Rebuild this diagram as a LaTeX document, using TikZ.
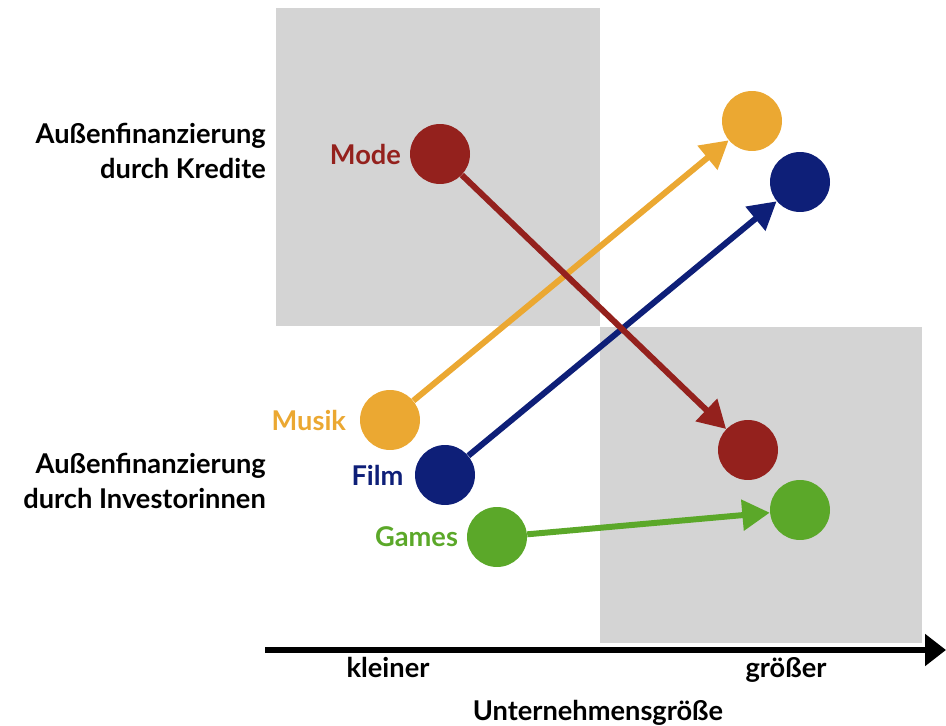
\documentclass[tikz,border=0pt]{standalone}
\usepackage{fontspec}
\setmainfont{Lato}
\usetikzlibrary{arrows.meta,positioning}
\definecolor{modered}{RGB}{148,33,29}
\definecolor{musikorange}{RGB}{235,168,50}
\definecolor{filmblue}{RGB}{14,31,120}
\definecolor{gamesgreen}{RGB}{91,168,41}
\definecolor{feldgrau}{RGB}{212,212,212}
\tikzset{
  dot/.style={circle,fill=#1,inner sep=0pt,minimum size=1.2cm},
  pfeil/.style={draw=#1,line width=3.4pt,-{Triangle[length=0.55cm,width=0.6cm]}},
  lbl/.style={font=\fontsize{15.5}{20}\selectfont\bfseries,text=#1},
  txt/.style={font=\fontsize{15.5}{20}\selectfont\bfseries,align=right}
}
\begin{document}
\begin{tikzpicture}[x=0.02cm,y=-0.02cm]
    \useasboundingbox (0,0) rectangle (946,726);
    \fill[feldgrau] (276,8) rectangle (600,326);
    \fill[feldgrau] (600,327) rectangle (922,643);
    % Achse
    \coordinate (x0) at (265,650);
    \coordinate (x1) at (946,650);
    \draw[line width=3.4pt,-{Triangle[length=0.42cm,width=0.62cm]}] (x0) -- (x1);
    \node[txt,anchor=base] (kl) at (388,677) {kleiner};
    \node[txt,anchor=base] (gr) at (786,677) {größer};
    \node[txt,anchor=base] (ug) at (598,720) {Unternehmensgröße};
    \node[txt,anchor=east] (kr) at (272,151) {Außenfinanzierung\\durch Kredite};
    \node[txt,anchor=east] (iv) at (272,481) {Außenfinanzierung\\durch Investorinnen};
    % Branchen vorher
    \node[dot=modered] (M) at (440,154) {};
    \node[dot=musikorange] (Mu) at (390,420) {};
    \node[dot=filmblue] (F) at (445,475) {};
    \node[dot=gamesgreen] (G) at (497,537) {};
    \node[lbl=modered,left=0.05cm of M] (lM) {Mode};
    \node[lbl=musikorange,left=0.15cm of Mu] (lMu) {Musik};
    \node[lbl=filmblue,left=0.1cm of F] (lF) {Film};
    \node[lbl=gamesgreen,left=0.05cm of G] (lG) {Games};
    % Branchen nachher
    \node[dot=musikorange] (Mu2) at (752,121) {};
    \node[dot=filmblue] (F2) at (800,182) {};
    \node[dot=modered] (M2) at (748,450) {};
    \node[dot=gamesgreen] (G2) at (800,510) {};
    \draw[pfeil=musikorange] (Mu) -- (Mu2);
    \draw[pfeil=filmblue] (F) -- (F2);
    \draw[pfeil=modered] (M) -- (M2);
    \draw[pfeil=gamesgreen] (G) -- (G2);
\end{tikzpicture}
\end{document}
